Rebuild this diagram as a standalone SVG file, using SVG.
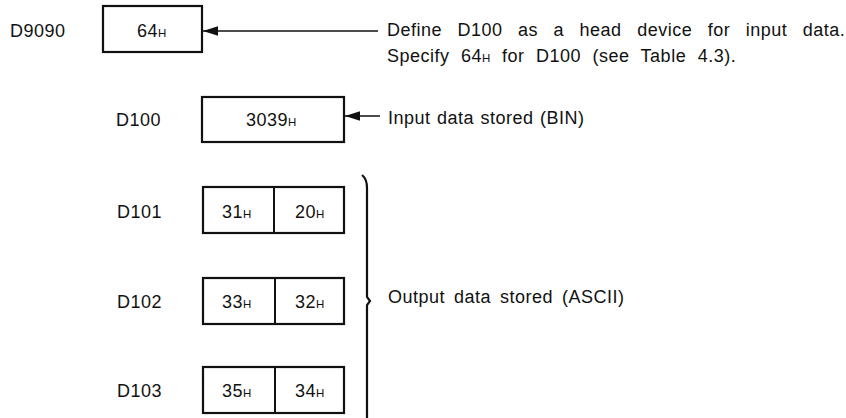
<svg xmlns="http://www.w3.org/2000/svg" width="846" height="418" viewBox="0 0 846 418">
  <style>
    text { font-family: "Liberation Sans", Arial, sans-serif; font-size: 18px; letter-spacing: 0.5px; fill: #111; }
    .sub { font-size: 11.5px; letter-spacing: 0; }
    .box { fill: #fff; stroke: #111; stroke-width: 2.2; }
    .div { stroke: #111; stroke-width: 2; }
    .conn { stroke: #111; stroke-width: 1.6; fill: none; }
    .brace { stroke: #111; stroke-width: 2.2; fill: none; }
  </style>
  <defs>
    <marker id="arrow" markerUnits="userSpaceOnUse" markerWidth="16" markerHeight="11" refX="15" refY="5.5" orient="auto">
      <path d="M0,0.8 L15,5.5 L0,10.2 Z" fill="#111"/>
    </marker>
  </defs>
  <rect width="846" height="418" fill="#fff"/>

  <!-- special register D9090: head device pointer -->
  <g id="d9090">
    <text x="10" y="37">D9090</text>
    <rect class="box" x="103" y="6" width="99" height="46"/>
    <text x="137" y="37">64<tspan class="sub">H</tspan></text>
  </g>

  <!-- D100: input data -->
  <g id="d100">
    <text x="116" y="126">D100</text>
    <rect class="box" x="202" y="97" width="142" height="45"/>
    <text x="246" y="126">3039<tspan class="sub">H</tspan></text>
  </g>

  <!-- D101 to D103: output characters -->
  <g id="d101">
    <text x="117" y="218">D101</text>
    <rect class="box" x="203" y="187" width="141" height="46"/>
    <line class="div" x1="274" y1="187" x2="274" y2="233"/>
    <text x="222" y="218">31<tspan class="sub">H</tspan></text>
    <text x="295" y="218">20<tspan class="sub">H</tspan></text>
  </g>

  <g id="d102">
    <text x="117" y="308">D102</text>
    <rect class="box" x="203" y="278" width="141" height="46"/>
    <line class="div" x1="275" y1="278" x2="275" y2="324"/>
    <text x="222" y="308">33<tspan class="sub">H</tspan></text>
    <text x="295" y="308">32<tspan class="sub">H</tspan></text>
  </g>

  <g id="d103">
    <text x="117" y="397">D103</text>
    <rect class="box" x="203" y="367" width="141" height="46"/>
    <line class="div" x1="275" y1="367" x2="275" y2="413"/>
    <text x="222" y="397">35<tspan class="sub">H</tspan></text>
    <text x="295" y="397">34<tspan class="sub">H</tspan></text>
  </g>

  <!-- annotations -->
  <g id="connectors">
    <line class="conn" x1="378" y1="31" x2="203" y2="31" marker-end="url(#arrow)"/>
    <line class="conn" x1="380" y1="116" x2="345" y2="116" marker-end="url(#arrow)"/>
    <path class="brace" d="M362,175 Q367,179 367,188 L367,297 L370,301 L367,305 L367,418"/>
  </g>

  <g id="notes">
    <text x="387" y="36" word-spacing="10">Define D100 as a head device for input data.</text>
    <text x="387" y="62" word-spacing="6">Specify 64<tspan class="sub">H</tspan> for D100 (see Table 4.3).</text>
    <text x="388" y="124" word-spacing="1">Input data stored (BIN)</text>
    <text x="388" y="303" word-spacing="3.5">Output data stored (ASCII)</text>
  </g>
</svg>
